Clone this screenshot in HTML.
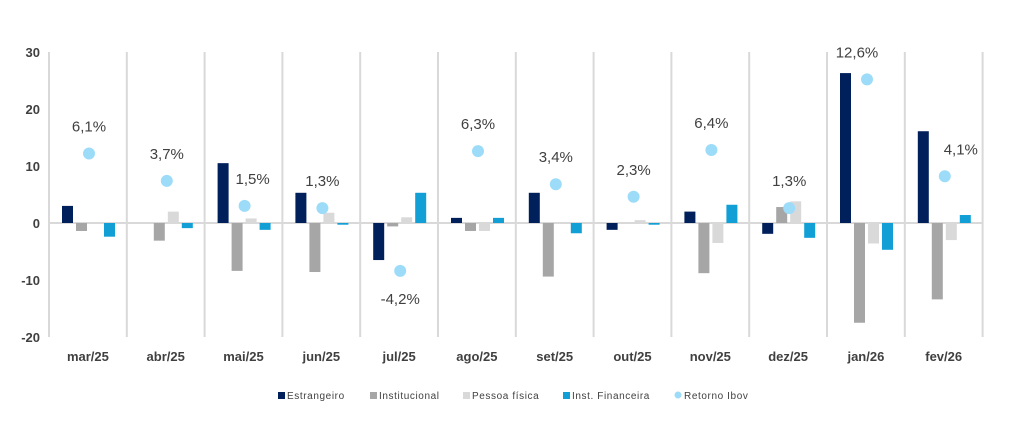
<!DOCTYPE html>
<html><head><meta charset="utf-8">
<style>
html,body{margin:0;padding:0;background:#fff;}
svg{display:block;font-family:"Liberation Sans",sans-serif;}
</style></head>
<body>
<svg id="chart" width="1010" height="422" viewBox="0 0 1010 422" xmlns="http://www.w3.org/2000/svg"></svg>
<script>
const categories=["mar/25","abr/25","mai/25","jun/25","jul/25","ago/25","set/25","out/25","nov/25","dez/25","jan/26","fev/26"];
const estrangeiro=[3.0,0,10.5,5.3,-6.5,0.9,5.3,-1.2,2.0,-1.9,26.3,16.1];
const institucional=[-1.4,-3.1,-8.4,-8.6,-0.6,-1.4,-9.4,0,-8.8,2.8,-17.5,-13.4];
const pessoaFisica=[0,2.0,0.8,1.8,1.0,-1.4,0,0.5,-3.5,3.8,-3.6,-3.0];
const instFinanceira=[-2.4,-0.9,-1.2,-0.3,5.3,0.9,-1.8,-0.3,3.2,-2.6,-4.7,1.4];
const retornoIbov=[6.1,3.7,1.5,1.3,-4.2,6.3,3.4,2.3,6.4,1.3,12.6,4.1];
const yTicks=[30,20,10,0,-10,-20];
const seriesNames=["Estrangeiro","Institucional","Pessoa física","Inst. Financeira","Retorno Ibov"];

const NS="http://www.w3.org/2000/svg";
const svg=document.getElementById('chart');
const x0=49,catW=77.8,zeroY=223,perUnit=5.7;
const y=v=>zeroY-v*perUnit;
const catX=i=>x0+i*catW;
function el(t,a,txt){const e=document.createElementNS(NS,t);for(const k in a)e.setAttribute(k,a[k]);if(txt!==undefined)e.textContent=txt;svg.appendChild(e);return e;}

// y tick labels
yTicks.forEach(t=>{
  const e=el('text',{x:40,y:y(t)+5,'text-anchor':'end','font-size':13,'font-weight':'bold',fill:'#404040'},String(t));
  
  
});
// vertical separators
for(let i=0;i<=categories.length;i++){
  const e=el('line',{x1:catX(i),x2:catX(i),y1:y(30),y2:y(-20),stroke:'#d9d9d9','stroke-width':2});
  
  
}
// zero line
const zl=el('line',{x1:x0,x2:catX(categories.length),y1:zeroY,y2:zeroY,stroke:'#d9d9d9','stroke-width':2});



const series=[[estrangeiro,'#00205b',13],[institucional,'#a6a6a6',27],[pessoaFisica,'#d9d9d9',41],[instFinanceira,'#119fd6',55]];
series.forEach(([vals,col,off],s)=>{
  vals.forEach((v,i)=>{
    if(v===0)return;
    const top=Math.min(y(v),zeroY),h=Math.abs(y(v)-zeroY);
    const r=el('rect',{x:catX(i)+off,y:top,width:11,height:h,fill:col});
    
    
  });
});
// ibov dots and labels
const labelDx=[0,0,8,0,0,0,0,0,0,0,-10,16];
retornoIbov.forEach((v,i)=>{
  const cx=catX(i)+40,cy=y(v*2);
  const c=el('circle',{cx:cx,cy:cy,r:6,fill:'#9ddcf9'});
  
  
  const ly=v<0?cy+33:cy-22;
  const t=el('text',{x:cx+labelDx[i],y:ly,'text-anchor':'middle','font-size':15,fill:'#404040'},v.toFixed(1).replace('.',',')+'%');
  
  
});
// category labels
categories.forEach((c,i)=>{
  const t=el('text',{x:catX(i)+catW/2,y:361,'text-anchor':'middle','font-size':13,'font-weight':'bold',fill:'#404040'},c);
  
  
});
// legend
const legX=[278,370,463,563,675];
const legCol=['#00205b','#a6a6a6','#d9d9d9','#119fd6','#9ddcf9'];
seriesNames.forEach((n,i)=>{
  let m;
  if(i===4){m=el('circle',{cx:legX[i]+3,cy:395,r:3.5,fill:legCol[i]});}
  else{m=el('rect',{x:legX[i],y:392,width:7,height:7,fill:legCol[i]});}
  
  
  const t=el('text',{x:legX[i]+9,y:399,'font-size':10,fill:'#404040','letter-spacing':'0.6'},n);
  
  
});
</script>
</body></html>
